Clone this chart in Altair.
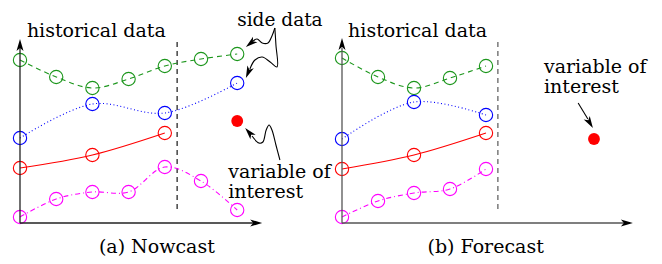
import altair as alt
import pandas as pd

# ---------------- data (time index, value) ----------------
# Panel (a) Nowcast
A_GREEN_T = [0, 1, 2, 3, 4, 5, 6]
A_GREEN_V = [16.3, 14.6, 13.5, 14.4, 15.7, 16.4, 16.9]
A_BLUE_T = [0, 2, 4, 6]
A_BLUE_V = [8.5, 11.9, 11.0, 14.0]
A_RED_T = [0, 2, 4]
A_RED_V = [5.5, 6.8, 9.0]
A_MAG_T = [0, 1, 2, 3, 4, 5, 6]
A_MAG_V = [0.6, 2.4, 3.1, 3.1, 5.6, 4.2, 1.3]
A_TARGET_T = [6]
A_TARGET_V = [10.2]

# Panel (b) Forecast
B_GREEN_T = [0, 1, 2, 3, 4]
B_GREEN_V = [16.5, 14.6, 13.5, 14.5, 15.7]
B_BLUE_T = [0, 2, 4]
B_BLUE_V = [8.4, 12.1, 10.8]
B_RED_T = [0, 2, 4]
B_RED_V = [5.4, 6.8, 9.0]
B_MAG_T = [0, 1, 2, 3, 4]
B_MAG_V = [0.6, 2.2, 3.0, 3.4, 5.4]
B_TARGET_T = [7]
B_TARGET_V = [8.4]

GREEN = "#1c961c"
BLUE = "#0000ff"
RED = "#ff0000"
MAGENTA = "#ff00ff"
FONT = "DejaVu Serif"
FS = 19

ARROW = "M0,0L0.7,2.4L0,1.8L-0.7,2.4Z"

Y_DOMAIN = [-3.3, 21.5]
W, H = 323, 248


def enc(xdom):
    xs = alt.X("t:Q", scale=alt.Scale(domain=xdom, nice=False, zero=False), axis=None)
    ys = alt.Y("v:Q", scale=alt.Scale(domain=Y_DOMAIN, nice=False, zero=False), axis=None)
    return xs, ys


def series(ts, vs, color, dash, xs, ys):
    df = pd.DataFrame({"t": ts, "v": vs, "i": list(range(len(ts)))})
    base = alt.Chart(df)
    kw = dict(color=color, strokeWidth=1.1, interpolate="catmull-rom")
    if dash:
        kw["strokeDash"] = dash
    line = base.mark_line(**kw).encode(x=xs, y=ys, order="i:Q")
    pts = base.mark_point(shape="circle", filled=False, color=color, size=177,
                          strokeWidth=1.1, opacity=1).encode(x=xs, y=ys)
    return [line, pts]


def rules(rows, color, xs, ys, dash=None, width=1.3):
    df = pd.DataFrame(rows, columns=["t", "v", "t2", "v2"])
    kw = dict(color=color, strokeWidth=width)
    if dash:
        kw["strokeDash"] = dash
    return alt.Chart(df).mark_rule(**kw).encode(x=xs, y=ys, x2="t2:Q", y2="v2:Q")


def heads(rows, color, xs, ys):
    df = pd.DataFrame(rows, columns=["t", "v", "a"])
    return alt.Chart(df).mark_point(shape=ARROW, filled=True, color=color, opacity=1,
                                    size=100, strokeWidth=0).encode(
        x=xs, y=ys, angle=alt.Angle("a:Q", scale=None))


def curves(rows, xs, ys):
    df = pd.DataFrame(rows, columns=["c", "i", "t", "v"])
    return alt.Chart(df).mark_line(color="black", strokeWidth=1.1,
                                   interpolate="catmull-rom").encode(
        x=xs, y=ys, detail="c:N", order="i:Q")


def texts(rows, xs, ys, align="left", size=FS):
    df = pd.DataFrame(rows, columns=["t", "v", "label"])
    return alt.Chart(df).mark_text(align=align, baseline="alphabetic", font=FONT,
                                   fontSize=size, color="black").encode(
        x=xs, y=ys, text="label:N")


def target(ts, vs, xs, ys):
    df = pd.DataFrame({"t": ts, "v": vs})
    return alt.Chart(df).mark_circle(color=RED, size=140, opacity=1).encode(x=xs, y=ys)


# ---------------- panel (a) ----------------
xa, ya = enc([-0.3315, 8.591])
layers_a = []
layers_a.append(rules([[4.34, 18.1, 4.34, 1.0]], "black", xa, ya, dash=[5, 4], width=1.1))
layers_a += series(A_GREEN_T, A_GREEN_V, GREEN, [5, 4], xa, ya)
layers_a += series(A_BLUE_T, A_BLUE_V, BLUE, [1, 2.5], xa, ya)
layers_a += series(A_RED_T, A_RED_V, RED, None, xa, ya)
layers_a += series(A_MAG_T, A_MAG_V, MAGENTA, [5, 3, 1, 3], xa, ya)
layers_a.append(rules([[0, 0, 0, 17.5], [0, 0, 6.6, 0]], "#222", xa, ya))
layers_a.append(heads([[0, 18.4, 0], [6.69, 0, 90]], "black", xa, ya))
layers_a.append(target(A_TARGET_T, A_TARGET_V, xa, ya))
layers_a.append(curves([
    [1, 0, 7.04, 19.5], [1, 1, 6.96, 18.7], [1, 2, 6.85, 18.0], [1, 3, 6.69, 18.0],
    [1, 4, 6.55, 18.4], [1, 5, 6.44, 18.2],
    [2, 0, 7.04, 19.5], [2, 1, 7.07, 17.8], [2, 2, 7.10, 15.6], [2, 3, 6.91, 16.1],
    [2, 4, 6.69, 16.6], [2, 5, 6.49, 16.3], [2, 6, 6.35, 15.4],
    [3, 0, 7.18, 6.3], [3, 1, 7.07, 7.8], [3, 2, 6.96, 9.3], [3, 3, 6.88, 9.8],
    [3, 4, 6.80, 9.3], [3, 5, 6.71, 8.1], [3, 6, 6.60, 8.0], [3, 7, 6.41, 8.7],
], xa, ya))
layers_a.append(heads([[6.24, 17.6, 231], [6.24, 14.5, 203], [6.22, 9.5, 319]], "black", xa, ya))
layers_a.append(texts([
    [0.19, 18.6, "historical data"],
    [5.75, 4.5, "variable of"],
    [5.75, 2.5, "interest"],
], xa, ya))
layers_a.append(texts([[6.0, 19.75, "side data"]], xa, ya, size=18.5))
layers_a.append(texts([[3.78, -3.0, "(a) Nowcast"]], xa, ya, align="center"))
panel_a = alt.layer(*layers_a).properties(width=W, height=H)

# ---------------- panel (b) ----------------
xb, yb = enc([-0.3056, 8.667])
layers_b = []
layers_b.append(rules([[4.33, 18.1, 4.33, 1.1]], "#666", xb, yb, dash=[5, 4], width=1.3))
layers_b += series(B_GREEN_T, B_GREEN_V, GREEN, [5, 4], xb, yb)
layers_b += series(B_BLUE_T, B_BLUE_V, BLUE, [1, 2.5], xb, yb)
layers_b += series(B_RED_T, B_RED_V, RED, None, xb, yb)
layers_b += series(B_MAG_T, B_MAG_V, MAGENTA, [5, 3, 1, 3], xb, yb)
layers_b.append(rules([[0, 0, 0, 17.5], [0, 0, 8.0, 0]], "#555", xb, yb))
layers_b.append(heads([[0, 18.5, 0], [8.08, 0, 90]], "black", xb, yb))
layers_b.append(target(B_TARGET_T, B_TARGET_V, xb, yb))
layers_b.append(curves([[1, 0, 6.56, 12.0], [1, 1, 6.83, 10.4]], xb, yb))
layers_b.append(heads([[6.97, 9.5, 149]], "black", xb, yb))
layers_b.append(texts([
    [0.17, 18.6, "historical data"],
    [5.61, 15.0, "variable of"],
    [5.61, 13.0, "interest"],
], xb, yb))
layers_b.append(texts([[3.99, -3.0, "(b) Forecast"]], xb, yb, align="center"))
panel_b = alt.layer(*layers_b).properties(width=W, height=H)

chart = alt.hconcat(panel_a, panel_b, spacing=0, bounds="flush").properties(
    padding=0
).configure_view(strokeWidth=0).resolve_scale(x="independent", y="independent")

chart.save("out.html", embed_options={"renderer": "svg", "actions": False})
